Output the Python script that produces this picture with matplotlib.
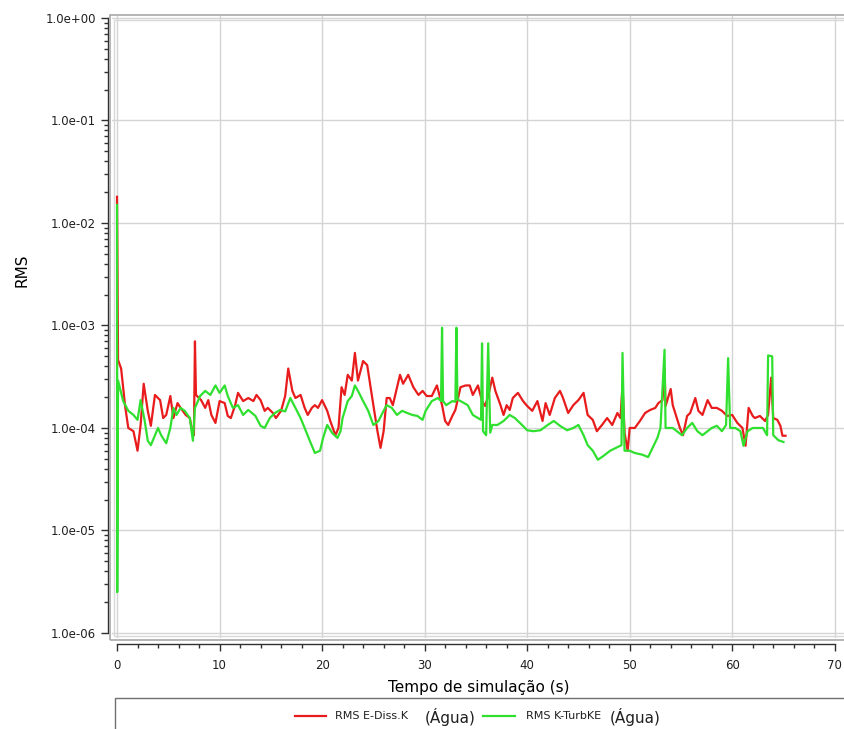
import numpy as np
import matplotlib
matplotlib.use("Agg")
import matplotlib.pyplot as plt
from matplotlib.patches import Rectangle
from matplotlib.lines import Line2D
from matplotlib.ticker import MultipleLocator, FixedLocator, FuncFormatter, NullFormatter

# RMS E-Diss.K (Agua) - time (s), residual
t_ediss = [0.0, 0.1, 0.4, 0.8, 1.1, 1.6, 2.0, 2.3, 2.6, 3.0, 3.3, 3.7, 4.2, 4.5, 4.8, 5.2,
           5.5, 5.9, 6.2, 6.7, 7.1, 7.4, 7.5, 7.6, 7.7, 8.2, 8.6, 8.9, 9.2, 9.6, 10.0, 10.5,
           10.8, 11.1, 11.5, 11.8, 12.3, 12.8, 13.3, 13.6, 14.0, 14.4, 14.7, 15.2, 15.5, 16.0,
           16.4, 16.7, 17.1, 17.4, 17.9, 18.3, 18.6, 19.0, 19.3, 19.6, 20.0, 20.5, 20.8, 21.3,
           21.6, 21.9, 22.2, 22.5, 22.9, 23.2, 23.5, 24.0, 24.4, 24.7, 25.0, 25.4, 25.7, 26.0,
           26.3, 26.6, 26.9, 27.6, 27.9, 28.4, 28.9, 29.4, 29.8, 30.2, 30.7, 31.2, 31.7, 32.0,
           32.3, 32.7, 33.0, 33.5, 34.0, 34.4, 34.7, 35.2, 35.6, 35.9, 36.2, 36.6, 36.9, 37.4,
           37.7, 38.0, 38.3, 38.6, 39.1, 39.6, 40.0, 40.5, 41.0, 41.5, 41.8, 42.2, 42.7, 43.2,
           43.5, 44.0, 44.5, 45.0, 45.5, 45.9, 46.4, 46.8, 47.3, 47.8, 48.3, 48.8, 49.1, 49.3,
           49.5, 49.8, 50.0, 50.5, 51.0, 51.5, 52.0, 52.5, 52.8, 53.2, 53.4, 53.5, 54.0, 54.2,
           54.6, 54.9, 55.2, 55.6, 55.9, 56.4, 56.7, 57.1, 57.6, 58.0, 58.5, 59.0, 59.5, 60.0,
           60.5, 61.0, 61.3, 61.6, 62.0, 62.2, 62.7, 63.2, 63.5, 63.8, 64.0, 64.4, 64.7, 64.9,
           65.2]
rms_ediss = [1.8e-2, 4.6e-4, 3.8e-4, 1.6e-4, 1.0e-4, 9.3e-5, 6.0e-5, 1.07e-4, 2.7e-4, 1.47e-4,
             1.05e-4, 2.1e-4, 1.87e-4, 1.25e-4, 1.34e-4, 2.05e-4, 1.25e-4, 1.75e-4, 1.57e-4,
             1.34e-4, 1.25e-4, 8.5e-5, 8.5e-5, 7.0e-4, 2.1e-4, 1.87e-4, 1.57e-4, 1.87e-4,
             1.34e-4, 1.12e-4, 1.83e-4, 1.75e-4, 1.31e-4, 1.25e-4, 1.64e-4, 2.2e-4, 1.83e-4,
             1.96e-4, 1.83e-4, 2.1e-4, 1.87e-4, 1.47e-4, 1.57e-4, 1.40e-4, 1.25e-4, 1.47e-4,
             2.05e-4, 3.8e-4, 2.3e-4, 1.96e-4, 2.1e-4, 1.57e-4, 1.34e-4, 1.57e-4, 1.67e-4,
             1.57e-4, 1.87e-4, 1.47e-4, 1.17e-4, 8.5e-5, 1.0e-4, 2.5e-4, 2.1e-4, 3.3e-4,
             2.9e-4, 5.4e-4, 2.9e-4, 4.5e-4, 4.1e-4, 2.6e-4, 1.67e-4, 9.3e-5, 6.4e-5, 9.3e-5,
             1.96e-4, 1.96e-4, 1.67e-4, 3.3e-4, 2.7e-4, 3.3e-4, 2.5e-4, 2.1e-4, 2.3e-4,
             2.05e-4, 2.05e-4, 2.6e-4, 1.67e-4, 1.17e-4, 1.07e-4, 1.31e-4, 1.50e-4, 2.5e-4,
             2.6e-4, 2.6e-4, 2.1e-4, 2.6e-4, 1.83e-4, 1.64e-4, 2.05e-4, 3.1e-4, 2.3e-4,
             1.67e-4, 1.34e-4, 1.67e-4, 1.50e-4, 1.96e-4, 2.2e-4, 1.83e-4, 1.64e-4, 1.47e-4,
             1.83e-4, 1.17e-4, 1.75e-4, 1.34e-4, 1.96e-4, 2.3e-4, 1.96e-4, 1.40e-4, 1.67e-4,
             1.87e-4, 2.2e-4, 1.34e-4, 1.20e-4, 9.3e-5, 1.07e-4, 1.25e-4, 1.07e-4, 1.40e-4,
             1.25e-4, 2.6e-4, 9.0e-5, 6.0e-5, 1.0e-4, 1.0e-4, 1.17e-4, 1.40e-4, 1.50e-4,
             1.57e-4, 1.75e-4, 1.87e-4, 3.8e-4, 1.64e-4, 2.4e-4, 1.67e-4, 1.25e-4, 1.0e-4,
             8.5e-5, 1.31e-4, 1.40e-4, 1.96e-4, 1.47e-4, 1.34e-4, 1.87e-4, 1.57e-4, 1.57e-4,
             1.47e-4, 1.31e-4, 1.34e-4, 1.12e-4, 1.0e-4, 6.7e-5, 1.57e-4, 1.31e-4, 1.25e-4,
             1.31e-4, 1.17e-4, 1.34e-4, 3.1e-4, 1.25e-4, 1.20e-4, 1.05e-4, 8.4e-5, 8.4e-5]

# RMS K-TurbKE (Agua)
t_turbke = [0.0, 0.02, 0.1, 0.6, 1.1, 1.6, 2.0, 2.3, 2.7, 3.0, 3.3, 3.7, 4.0, 4.3, 4.8, 5.2,
            5.5, 5.8, 6.2, 6.6, 7.1, 7.4, 7.6, 8.1, 8.6, 9.1, 9.6, 10.0, 10.5, 10.8, 11.3,
            11.8, 12.3, 12.8, 13.5, 14.0, 14.4, 14.9, 15.4, 15.9, 16.4, 16.9, 17.4, 17.9,
            18.3, 18.8, 19.3, 19.8, 20.1, 20.5, 21.0, 21.5, 21.8, 22.0, 22.5, 22.9, 23.2,
            23.5, 24.0, 24.5, 25.0, 25.5, 26.0, 26.3, 26.8, 27.3, 27.8, 28.3, 28.8, 29.3,
            29.8, 30.1, 30.7, 31.3, 31.6, 31.7, 31.8, 32.1, 32.7, 33.0, 33.1, 33.2, 33.5,
            34.2, 34.7, 35.2, 35.5, 35.6, 35.7, 36.0, 36.2, 36.4, 36.6, 37.1, 37.7, 38.3,
            38.8, 39.5, 40.0, 40.6, 41.3, 42.0, 42.6, 43.2, 43.9, 44.5, 45.0, 45.5, 45.9,
            46.4, 46.9, 47.4, 48.1, 48.8, 49.2, 49.3, 49.5, 50.0, 50.5, 51.2, 51.8, 52.1,
            52.7, 53.0, 53.4, 53.5, 54.2, 54.6, 55.1, 55.6, 56.1, 56.6, 57.1, 57.6, 58.0,
            58.5, 59.0, 59.4, 59.6, 59.8, 60.3, 60.8, 61.1, 61.5, 62.0, 62.5, 63.0, 63.4,
            63.5, 63.9, 64.0, 64.5, 65.0]
rms_turbke = [1.5e-2, 2.5e-6, 2.9e-4, 1.83e-4, 1.47e-4, 1.34e-4, 1.20e-4, 1.87e-4, 1.17e-4,
              7.5e-5, 6.8e-5, 8.5e-5, 1.0e-4, 8.5e-5, 7.1e-5, 1.0e-4, 1.57e-4, 1.34e-4,
              1.57e-4, 1.47e-4, 1.25e-4, 7.5e-5, 1.57e-4, 2.05e-4, 2.3e-4, 2.1e-4, 2.6e-4,
              2.2e-4, 2.6e-4, 2.05e-4, 1.57e-4, 1.67e-4, 1.34e-4, 1.50e-4, 1.31e-4, 1.05e-4,
              1.0e-4, 1.25e-4, 1.40e-4, 1.50e-4, 1.45e-4, 1.96e-4, 1.57e-4, 1.25e-4, 1.0e-4,
              7.5e-5, 5.7e-5, 6.0e-5, 8.0e-5, 1.07e-4, 8.9e-5, 8.0e-5, 9.3e-5, 1.25e-4,
              1.83e-4, 2.05e-4, 2.6e-4, 2.3e-4, 1.83e-4, 1.47e-4, 1.07e-4, 1.17e-4, 1.47e-4,
              1.67e-4, 1.57e-4, 1.34e-4, 1.47e-4, 1.40e-4, 1.34e-4, 1.31e-4, 1.20e-4, 1.47e-4,
              1.83e-4, 1.96e-4, 1.83e-4, 9.5e-4, 1.83e-4, 1.67e-4, 1.83e-4, 1.8e-4, 9.5e-4,
              1.9e-4, 1.83e-4, 1.67e-4, 1.34e-4, 1.25e-4, 1.2e-4, 6.7e-4, 9.3e-5, 8.5e-5,
              6.7e-4, 9.0e-5, 1.07e-4, 1.07e-4, 1.17e-4, 1.34e-4, 1.25e-4, 1.07e-4, 9.5e-5,
              9.3e-5, 9.5e-5, 1.07e-4, 1.17e-4, 1.05e-4, 9.5e-5, 1.0e-4, 1.07e-4, 8.5e-5,
              6.8e-5, 6.0e-5, 4.9e-5, 5.3e-5, 6.0e-5, 6.5e-5, 6.8e-5, 5.4e-4, 6.0e-5, 6.0e-5,
              5.7e-5, 5.5e-5, 5.2e-5, 6.0e-5, 8.0e-5, 1.0e-4, 5.8e-4, 1.0e-4, 1.0e-4, 9.3e-5,
              8.5e-5, 1.0e-4, 1.12e-4, 9.3e-5, 8.5e-5, 9.3e-5, 1.0e-4, 1.05e-4, 9.3e-5,
              1.07e-4, 4.8e-4, 1.0e-4, 1.0e-4, 9.3e-5, 6.7e-5, 9.3e-5, 1.0e-4, 1.0e-4, 1.0e-4,
              8.5e-5, 5.1e-4, 5.0e-4, 8.5e-5, 7.6e-5, 7.3e-5]

y_major = [1e-6, 1e-5, 1e-4, 1e-3, 1e-2, 1e-1, 1e0]
y_minor = [m * d for d in y_major[:-1] for m in range(2, 10)]

W, H = 845, 729
fig = plt.figure(figsize=(W / 100, H / 100), dpi=100)
ax = fig.add_axes([112 / W, 1 - 638 / H, 733 / W, 623 / H])

ax.plot(t_ediss, rms_ediss, color="#e81c1c", lw=1.6, zorder=3)
ax.plot(t_turbke, rms_turbke, color="#2fe02f", lw=1.6, zorder=3)

ax.set_yscale("log")
ax.set_xlim(-0.49, 71.0)
ax.set_ylim(10 ** -6.049, 10 ** 0.029)

ax.xaxis.set_major_locator(MultipleLocator(10))
ax.xaxis.set_minor_locator(MultipleLocator(2))
ax.yaxis.set_major_locator(FixedLocator(y_major))
ax.yaxis.set_minor_locator(FixedLocator(y_minor))
ax.yaxis.set_minor_formatter(NullFormatter())
ax.yaxis.set_major_formatter(FuncFormatter(lambda v, p: f"{v:.1e}"))

ax.grid(True, which="major", color="#d4d4d4", lw=1.0, zorder=0)

for s in ["top", "right"]:
    ax.spines[s].set_visible(False)
ax.spines["left"].set_position(("outward", 3))
ax.spines["bottom"].set_position(("outward", 4))
ax.spines["left"].set_bounds(1e-6, 1.0)
ax.spines["bottom"].set_bounds(0, 70)
for s in ["left", "bottom"]:
    ax.spines[s].set_color("#303030")
    ax.spines[s].set_linewidth(1.0)

ax.tick_params(axis="both", which="major", direction="out", length=5, width=1,
               color="#303030", labelsize=8.5, labelcolor="#202020")
ax.tick_params(axis="both", which="minor", direction="out", length=3, width=1,
               color="#303030")
ax.tick_params(axis="x", which="major", pad=6)

ax.set_xlabel("Tempo de simulação (s)", fontsize=11, labelpad=6)
ax.set_ylabel("RMS", fontsize=11)
ax.yaxis.set_label_coords(-0.113, 0.59)

# plot area frame (double grey border)
fig.add_artist(Rectangle((110 / W, 1 - 640 / H), 740 / W, 625 / H, transform=fig.transFigure,
                         fill=False, ec="#a8a8a8", lw=1.2, zorder=5))
fig.add_artist(Rectangle((114 / W, 1 - 636 / H), 740 / W, 616 / H, transform=fig.transFigure,
                         fill=False, ec="#d8d8d8", lw=1.0, zorder=5))

# legend box
fig.add_artist(Rectangle((115 / W, 1 - 760 / H), 740 / W, 62 / H, transform=fig.transFigure,
                         fill=False, ec="#707070", lw=1.0))
ly = 1 - 716 / H
fig.add_artist(Line2D([295 / W, 326 / W], [ly, ly], color="#e81c1c", lw=1.6))
fig.text(335 / W, ly, "RMS E-Diss.K", fontsize=8, va="center", ha="left", color="#202020")
fig.text(425 / W, ly - 1 / H, "(Água)", fontsize=11, va="center", ha="left", color="#202020")
fig.add_artist(Line2D([483 / W, 515 / W], [ly, ly], color="#2fe02f", lw=1.6))
fig.text(526 / W, ly, "RMS K-TurbKE", fontsize=8, va="center", ha="left", color="#202020")
fig.text(610 / W, ly - 1 / H, "(Água)", fontsize=11, va="center", ha="left", color="#202020")

fig.savefig("out.png", dpi=100)
